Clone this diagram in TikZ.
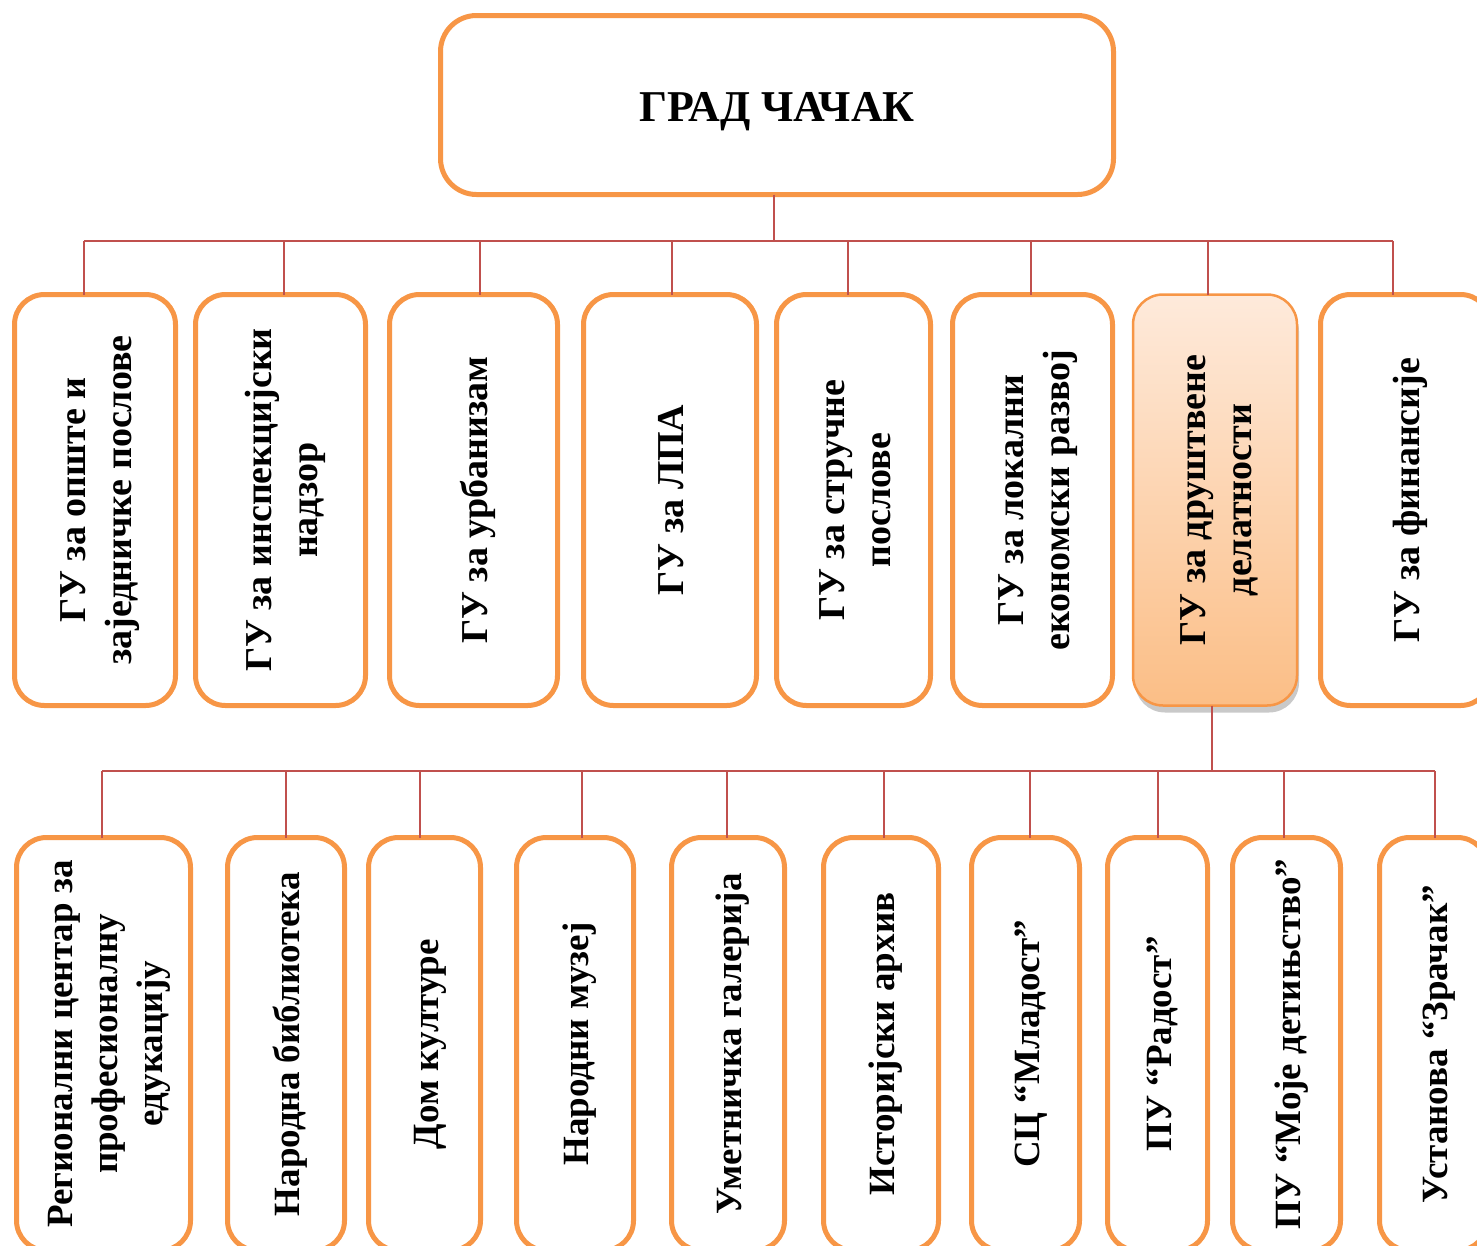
\documentclass[tikz,border=0pt]{standalone}
\usepackage{fontspec}
\usepackage{graphicx}
\setmainfont{Liberation Serif}
\usetikzlibrary{shadows}
\definecolor{org}{HTML}{F79646}
\definecolor{con}{HTML}{C0504D}
\definecolor{gtop}{HTML}{FEEADB}
\definecolor{gbot}{HTML}{FBBE86}
\newcommand{\vtext}[1]{\hspace*{9pt}\rotatebox{90}{\begin{tabular}{@{}c@{}}#1\end{tabular}}}
\begin{document}
\begin{tikzpicture}[x=1pt,y=-1pt,
  box/.style={draw=org, line width=5pt, rounded corners=30pt, fill=white, anchor=north west,
    inner sep=0pt, outer sep=0pt, font=\fontsize{38}{46}\selectfont\bfseries},
  lvtwo/.style={box, minimum height=411pt},
  lvthree/.style={box, minimum height=413pt, font=\fontsize{37}{45}\selectfont\bfseries},
  hl/.style={lvtwo, line width=2.5pt, top color=gtop, bottom color=gbot,
    drop shadow={shadow xshift=2pt, shadow yshift=-7pt, opacity=0.3, fill=black!70}},
  conn/.style={draw=con, line width=2.5pt}]
\useasboundingbox (0,0) rectangle (1477,1245);
\clip (0,0) rectangle (1477,1245);

% top
\node[box, minimum width=673pt, minimum height=179pt, rounded corners=36pt,
  font=\fontsize{44}{50}\selectfont\bfseries] (top) at (440.5,15.5) {\raisebox{-16pt}[0pt][0pt]{ГРАД ЧАЧАК}};

% level 2
\node[lvtwo, minimum width=161pt] (a1) at (14.5,294.5) {\vtext{ГУ за опште и\\заједничке послове}};
\node[lvtwo, minimum width=170pt] (a2) at (195.5,294.5) {\vtext{ГУ за инспекцијски\\надзор}};
\node[lvtwo, minimum width=168pt] (a3) at (389.5,294.5) {\vtext{ГУ за урбанизам}};
\node[lvtwo, minimum width=173pt] (a4) at (583.5,294.5) {\vtext{ГУ за ЛПА}};
\node[lvtwo, minimum width=154pt] (a5) at (776.5,294.5) {\vtext{ГУ за стручне\\послове}};
\node[lvtwo, minimum width=160pt] (a6) at (952.5,294.5) {\vtext{ГУ за локални\\економски развој}};
\node[hl, minimum width=164pt] (a7) at (1133,294.5) {\vtext{ГУ за друштвене\\делатности}};
\node[lvtwo, minimum width=170pt] (a8) at (1320.5,294.5) {\vtext{ГУ за финансије}};

% level 3
\node[lvthree, minimum width=174pt] (c1) at (16.5,837.5) {\vtext{Регионални центар за\\професионалну\\едукацију}};
\node[lvthree, minimum width=117pt] (c2) at (227.5,837.5) {\vtext{Народна библиотека}};
\node[lvthree, minimum width=112pt] (c3) at (368.5,837.5) {\vtext{Дом културе}};
\node[lvthree, minimum width=117pt] (c4) at (516.5,837.5) {\vtext{Народни музеј}};
\node[lvthree, minimum width=113pt] (c5) at (671.5,837.5) {\vtext{Уметничка галерија}};
\node[lvthree, minimum width=115pt] (c6) at (823.5,837.5) {\vtext{Историјски архив}};
\node[lvthree, minimum width=108pt] (c7) at (971.5,837.5) {\vtext{СЦ “Младост”}};
\node[lvthree, minimum width=100pt] (c8) at (1107.5,837.5) {\vtext{ПУ “Радост”}};
\node[lvthree, minimum width=108pt] (c9) at (1232.5,837.5) {\vtext{ПУ “Моје детињство”}};
\node[lvthree, minimum width=108pt] (c10) at (1379.5,837.5) {\vtext{Установа “Зрачак”}};

% bus level 2
\coordinate (s0) at (774,241);
\coordinate (t1) at (84,241);
\coordinate (t2) at (284,241);
\coordinate (t3) at (480,241);
\coordinate (t4) at (672,241);
\coordinate (t5) at (848,241);
\coordinate (t6) at (1031,241);
\coordinate (t7) at (1208,241);
\coordinate (t8) at (1393,241);
\draw[conn] (top.south -| s0) -- (s0);
\draw[conn] (t1) -- (t8);
\foreach \i in {1,...,8} \draw[conn] (t\i) -- (t\i |- a\i.north);

% bus level 3
\coordinate (u0) at (1212,771);
\coordinate (u1) at (102,771);
\coordinate (u2) at (286,771);
\coordinate (u3) at (420,771);
\coordinate (u4) at (582,771);
\coordinate (u5) at (727,771);
\coordinate (u6) at (884,771);
\coordinate (u7) at (1030,771);
\coordinate (u8) at (1158,771);
\coordinate (u9) at (1284,771);
\coordinate (u10) at (1435,771);
\draw[conn] (a7.south -| u0) -- (u0);
\draw[conn] (u1) -- (u10);
\foreach \i in {1,...,10} \draw[conn] (u\i) -- (u\i |- c\i.north);
\end{tikzpicture}
\end{document}
